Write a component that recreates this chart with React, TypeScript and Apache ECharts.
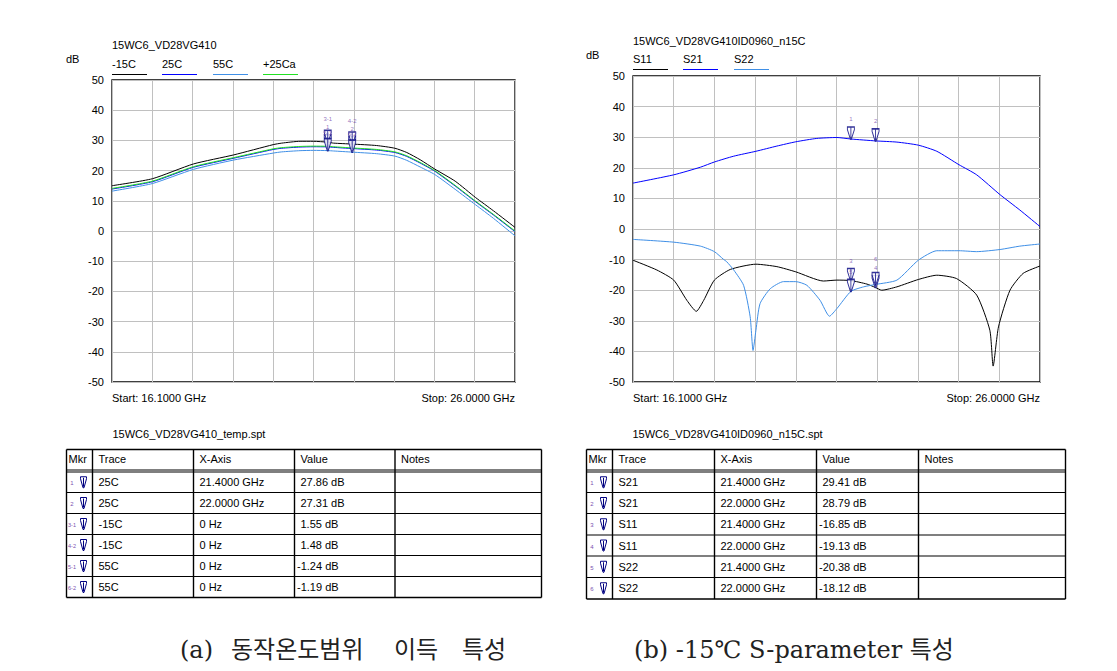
import React, { useEffect, useRef } from "react";
import * as echarts from "echarts";

// ---------- data ----------
const F_START = 16.1;
const F_STOP = 26.0;
const F_STEP = 0.99;

const gainFreq = [16.1, 17.09, 18.1, 19.09, 20.06, 20.27, 20.72, 21.05, 21.4, 21.54, 22.0, 22.6, 23.05, 23.34, 23.67, 24.03, 24.53, 25.03, 25.47, 26.0];
const gainM15C = [15.0, 17.3, 22.2, 25.2, 28.6, 29.1, 29.7, 29.7, 29.41, 29.1, 28.79, 28.3, 27.4, 26.0, 23.6, 20.5, 16.5, 11.1, 6.7, 1.2];
const gain25C = [13.9, 16.3, 21.1, 24.1, 27.0, 27.4, 27.8, 27.9, 27.86, 27.7, 27.31, 26.8, 26.0, 24.7, 22.5, 19.8, 14.9, 9.7, 5.3, -0.2];
const gain55C = [13.2, 15.7, 20.4, 23.5, 25.8, 26.2, 26.6, 26.7, 26.62, 26.5, 26.12, 25.6, 24.8, 23.4, 21.2, 18.7, 13.8, 8.7, 4.2, -1.6];
const gain25Ca = [14.1, 16.5, 21.3, 24.3, 27.2, 27.6, 28.0, 28.1, 28.05, 27.9, 27.5, 27.0, 26.2, 24.9, 22.7, 20.0, 15.1, 9.9, 5.5, 0.0];

const s21Freq = [16.1, 17.09, 17.74, 18.08, 18.55, 19.09, 19.6, 20.06, 20.57, 21.06, 21.4, 22.0, 22.52, 23.04, 23.49, 24.03, 24.46, 25.03, 25.51, 26.0];
const s21 = [15.0, 17.7, 20.2, 21.9, 23.8, 25.4, 27.1, 28.5, 29.6, 29.9, 29.41, 28.79, 28.4, 27.4, 25.4, 21.0, 17.7, 11.2, 6.2, 0.8];

const s22Freq = [16.1, 17.09, 17.74, 18.08, 18.3, 18.38, 18.55, 18.79, 18.95, 19.02, 19.09, 19.19, 19.44, 19.76, 20.06, 20.33, 20.65, 20.88, 21.06, 21.4, 21.71, 22.0, 22.52, 23.04, 23.49, 24.03, 24.46, 25.03, 25.51, 26.0];
const s22 = [-3.4, -4.3, -5.6, -7.4, -9.9, -10.7, -13.4, -18.4, -28.7, -39.7, -33.1, -24.4, -19.5, -17.2, -17.2, -18.4, -23.3, -28.5, -26.0, -20.38, -18.9, -18.12, -16.7, -10.2, -7.1, -7.1, -7.4, -6.7, -5.6, -4.9];

const s11Freq = [16.1, 16.68, 17.09, 17.41, 17.64, 17.82, 18.08, 18.47, 19.09, 19.6, 20.06, 20.73, 21.06, 21.4, 21.79, 22.0, 22.15, 22.52, 23.04, 23.49, 23.97, 24.46, 24.78, 24.86, 24.99, 25.27, 25.59, 26.0];
const s11 = [-10.2, -13.4, -16.7, -23.3, -26.9, -23.3, -16.7, -13.2, -11.5, -12.3, -14.0, -17.0, -16.7, -16.85, -18.0, -19.13, -20.0, -18.9, -16.5, -15.1, -16.2, -21.6, -33.1, -44.8, -32.0, -20.0, -14.5, -12.1];

const leftMkrLabels = ["1", "2", "3-1", "4-2", "5-1", "6-2"];
const leftMkrFreq = [21.4, 22.0, 21.4, 22.0, 21.4, 22.0];
const leftMkrValue = [27.86, 27.31, 29.41, 28.79, 26.62, 26.12];

const rightMkrLabels = ["1", "2", "3", "4", "5", "6"];
const rightMkrFreq = [21.4, 22.0, 21.4, 22.0, 21.4, 22.0];
const rightMkrValue = [29.41, 28.79, -16.85, -19.13, -20.38, -18.12];

const tableHeader = ["Mkr", "Trace", "X-Axis", "Value", "Notes"];

const leftTableMkr = ["1", "2", "3-1", "4-2", "5-1", "6-2"];
const leftTableTrace = ["25C", "25C", "-15C", "-15C", "55C", "55C"];
const leftTableX = ["21.4000 GHz", "22.0000 GHz", "0 Hz", "0 Hz", "0 Hz", "0 Hz"];
const leftTableValue = ["27.86 dB", "27.31 dB", "1.55 dB", "1.48 dB", "-1.24 dB", "-1.19 dB"];

const rightTableMkr = ["1", "2", "3", "4", "5", "6"];
const rightTableTrace = ["S21", "S21", "S11", "S11", "S22", "S22"];
const rightTableX = ["21.4000 GHz", "22.0000 GHz", "21.4000 GHz", "22.0000 GHz", "21.4000 GHz", "22.0000 GHz"];
const rightTableValue = ["29.41 dB", "28.79 dB", "-16.85 dB", "-19.13 dB", "-20.38 dB", "-18.12 dB"];

const leftLegend = ["-15C", "25C", "55C", "+25Ca"];
const rightLegend = ["S11", "S21", "S22"];

const leftTitle = "15WC6_VD28VG410";
const rightTitle = "15WC6_VD28VG410ID0960_n15C";
const leftFile = "15WC6_VD28VG410_temp.spt";
const rightFile = "15WC6_VD28VG410ID0960_n15C.spt";
const startLabel = "Start: 16.1000 GHz";
const stopLabel = "Stop: 26.0000 GHz";
const captionAWords = ["(a)", "동작온도범위", "이득", "특성"];
const captionB = "(b) -15℃ S-parameter 특성";

// ---------- styles ----------
const C_BLACK = "#000000";
const C_BLUE = "#0000ff";
const C_LBLUE = "#3f8fe6";
const C_GREEN = "#22e022";
const C_MKR = "#000080";
const C_MKR_LABEL = "#7a4fb0";
const FONT = "'Liberation Sans', Arial, sans-serif";
const CAP_FONT = "'DejaVu Serif', 'Noto Sans CJK KR', serif";

const pair = (fs: number[], vs: number[]) => fs.map((f, i) => [f - F_START, vs[i]]);

function txt(x: number, y: number, text: string, size = 11, align = "left", color = "#000", font = FONT) {
  return {
    type: "text",
    x,
    y,
    silent: true,
    style: {
      text,
      fill: color,
      font: `${size}px ${font}`,
      align,
      textAlign: align,
      verticalAlign: "middle",
      textVerticalAlign: "middle",
    },
  };
}

function ln(x1: number, y1: number, x2: number, y2: number, color = "#000", w = 1) {
  return { type: "line", silent: true, shape: { x1, y1, x2, y2 }, style: { stroke: color, lineWidth: w } };
}

function mkrIcon(x0: number, yc: number) {
  const y0 = yc - 5.5;
  return [
    {
      type: "polygon",
      silent: true,
      shape: { points: [[x0, y0], [x0 + 6, y0], [x0 + 6, y0 + 2], [x0 + 3.5, y0 + 11], [x0 + 2.5, y0 + 11], [x0, y0 + 2]] },
      style: { fill: "#fff", stroke: C_MKR, lineWidth: 1 },
    },
    ln(x0 + 3, y0 + 1, x0 + 3, y0 + 10, C_MKR, 1),
  ];
}

function buildTable(cols: number[], rowLines: number[], mkr: string[], trace: string[], xs: string[], vals: string[]) {
  const els: any[] = [];
  const left = cols[0];
  const right = cols[cols.length - 1];
  const top = rowLines[0];
  const bottom = rowLines[rowLines.length - 1];
  els.push(ln(left, top, right, top, "#000", 1.4));
  els.push(ln(left, bottom, right, bottom, "#000", 1.4));
  cols.forEach((c) => els.push(ln(c, top, c, bottom, "#000", 1.4)));
  rowLines.slice(1, rowLines.length - 1).forEach((y) => els.push(ln(left, y, right, y, "#000", 1.2)));
  const hy = (rowLines[0] + rowLines[1]) / 2 - 0.5;
  tableHeader.forEach((h, i) => {
    els.push(txt(cols[i] + (i === 0 ? 2 : 6), hy, h, 11));
  });
  for (let r = 0; r < mkr.length; r++) {
    const yTop = rowLines[2 + r];
    const yBot = rowLines[3 + r];
    const yc = (yTop + yBot) / 2;
    els.push(txt(cols[0] + 5.5, yc + 1, mkr[r], mkr[r].length > 1 ? 5.5 : 6, "center", C_MKR_LABEL));
    els.push(...mkrIcon(cols[0] + 14, yc));
    els.push(txt(cols[1] + 6, yc, trace[r], 11));
    els.push(txt(cols[2] + 6, yc, xs[r], 11));
    const v = vals[r];
    els.push(txt(cols[3] + (v.startsWith("-") ? 2.5 : 6), yc, v, 11));
  }
  return els;
}

const MKR_PATH = "path://M0,0 L7,0 L7,2.5 L4,12 L3,12 L0,2.5 Z M3.5,0.5 L3.5,11";

function markerSeries(xi: number, labels: string[], fs: number[], vs: number[], labelShift: Record<string, number>) {
  return {
    type: "scatter",
    xAxisIndex: xi,
    yAxisIndex: xi,
    z: 10,
    silent: true,
    symbol: MKR_PATH,
    symbolSize: [7, 12],
    symbolOffset: [0, "-50%"],
    itemStyle: { color: "#ffffff", borderColor: C_MKR, borderWidth: 1.2 },
    label: {
      show: true,
      position: "top",
      distance: 4,
      formatter: "{b}",
      fontSize: 6,
      fontFamily: FONT,
      color: C_MKR_LABEL,
    },
    data: labels.map((n, i) => ({
      name: n,
      value: [fs[i] - F_START, vs[i]],
      label: { offset: [0, labelShift[n] || 0] },
    })),
  };
}

function lineSeries(xi: number, name: string, color: string, data: number[][], z = 2) {
  return {
    type: "line",
    name,
    xAxisIndex: xi,
    yAxisIndex: xi,
    z,
    silent: true,
    symbol: "none",
    smooth: 0.2,
    lineStyle: { color, width: 1 },
    data,
  };
}

function xAxisCfg(gi: number) {
  return {
    gridIndex: gi,
    type: "value",
    min: 0,
    max: F_STOP - F_START,
    interval: F_STEP,
    axisLabel: { show: false },
    axisLine: { show: false },
    axisTick: { show: false },
    splitLine: { show: true, lineStyle: { color: "#c0c0c0", width: 1 } },
  };
}

function yAxisCfg(gi: number) {
  return {
    gridIndex: gi,
    type: "value",
    min: -50,
    max: 50,
    interval: 10,
    axisLabel: { color: "#000", fontSize: 11, fontFamily: FONT, margin: 8 },
    axisLine: { show: false },
    axisTick: { show: false },
    splitLine: { show: true, lineStyle: { color: "#c0c0c0", width: 1 } },
  };
}

export default function App() {
  const ref = useRef<HTMLDivElement>(null);

  useEffect(() => {
    if (!ref.current) return;
    const chart = echarts.init(ref.current, undefined, { renderer: "svg" });

    const LG = { left: 112, top: 80, width: 403, height: 302 };
    const RG = { left: 633, top: 76, width: 407, height: 306 };

    const leftColors = [C_BLACK, C_BLUE, C_LBLUE, C_GREEN];
    const leftLegX = [112, 162, 213, 263];
    const rightColors = [C_BLACK, C_BLUE, C_LBLUE];
    const rightLegX = [633, 683, 734];

    const graphics: any[] = [];
    graphics.push(txt(112, 45, leftTitle, 11));
    graphics.push(txt(66, 59, "dB", 11));
    leftLegend.forEach((n, i) => {
      graphics.push(txt(leftLegX[i], 64, n, 11));
      graphics.push(ln(leftLegX[i], 74.5, leftLegX[i] + 35, 74.5, leftColors[i], 1.2));
    });
    graphics.push(txt(112, 397.5, startLabel, 11));
    graphics.push(txt(LG.left + LG.width, 397.5, stopLabel, 11, "right"));
    graphics.push(txt(633, 40.5, rightTitle, 11));
    graphics.push(txt(586, 55, "dB", 11));
    rightLegend.forEach((n, i) => {
      graphics.push(txt(rightLegX[i], 58.5, n, 11));
      graphics.push(ln(rightLegX[i], 69.5, rightLegX[i] + 35, 69.5, rightColors[i], 1.2));
    });
    graphics.push(txt(633, 397.5, startLabel, 11));
    graphics.push(txt(RG.left + RG.width, 397.5, stopLabel, 11, "right"));

    graphics.push(txt(112.5, 434, leftFile, 11));
    graphics.push(txt(632.5, 434, rightFile, 11));
    graphics.push(
      ...buildTable(
        [66.5, 92.5, 193.5, 294.5, 395, 541.5],
        [449.5, 470, 472, 492.5, 513.5, 534.5, 555.5, 576.5, 597.5],
        leftTableMkr, leftTableTrace, leftTableX, leftTableValue
      )
    );
    graphics.push(
      ...buildTable(
        [586.5, 612.5, 714.5, 816.5, 918.5, 1065.5],
        [449.5, 470, 472, 492.5, 513.5, 535, 556, 577.5, 599],
        rightTableMkr, rightTableTrace, rightTableX, rightTableValue
      )
    );

    // captions
    const capAX = [180, 231, 394, 462];
    captionAWords.forEach((w, i) => graphics.push(txt(capAX[i], 650, w, 24, "left", "#222", CAP_FONT)));
    graphics.push(txt(794, 650, captionB, 24, "center", "#222", CAP_FONT));

    const option: any = {
      animation: false,
      backgroundColor: "#ffffff",
      grid: [
        { ...LG, show: true, borderColor: "#000", borderWidth: 1.3, backgroundColor: "transparent", containLabel: false },
        { ...RG, show: true, borderColor: "#000", borderWidth: 1.3, backgroundColor: "transparent", containLabel: false },
      ],
      xAxis: [xAxisCfg(0), xAxisCfg(1)],
      yAxis: [yAxisCfg(0), yAxisCfg(1)],
      series: [
        lineSeries(0, "-15C", C_BLACK, pair(gainFreq, gainM15C), 2),
        lineSeries(0, "55C", C_LBLUE, pair(gainFreq, gain55C), 2),
        lineSeries(0, "25C", C_BLUE, pair(gainFreq, gain25C), 3),
        lineSeries(0, "+25Ca", C_GREEN, pair(gainFreq, gain25Ca), 4),
        markerSeries(0, leftMkrLabels, leftMkrFreq, leftMkrValue, { "3-1": -3, "4-2": -3, "5-1": 2, "6-2": 2 }),
        lineSeries(1, "S11", C_BLACK, pair(s11Freq, s11), 2),
        lineSeries(1, "S22", C_LBLUE, pair(s22Freq, s22), 3),
        lineSeries(1, "S21", C_BLUE, pair(s21Freq, s21), 3),
        markerSeries(1, rightMkrLabels, rightMkrFreq, rightMkrValue, { "6": -6 }),
      ],
      graphic: { elements: graphics },
    };

    chart.setOption(option);
    return () => chart.dispose();
  }, []);

  return (
    <div
      ref={ref}
      style={{ position: "absolute", left: 0, top: 0, width: 1117, height: 671, background: "#fff" }}
    />
  );
}
